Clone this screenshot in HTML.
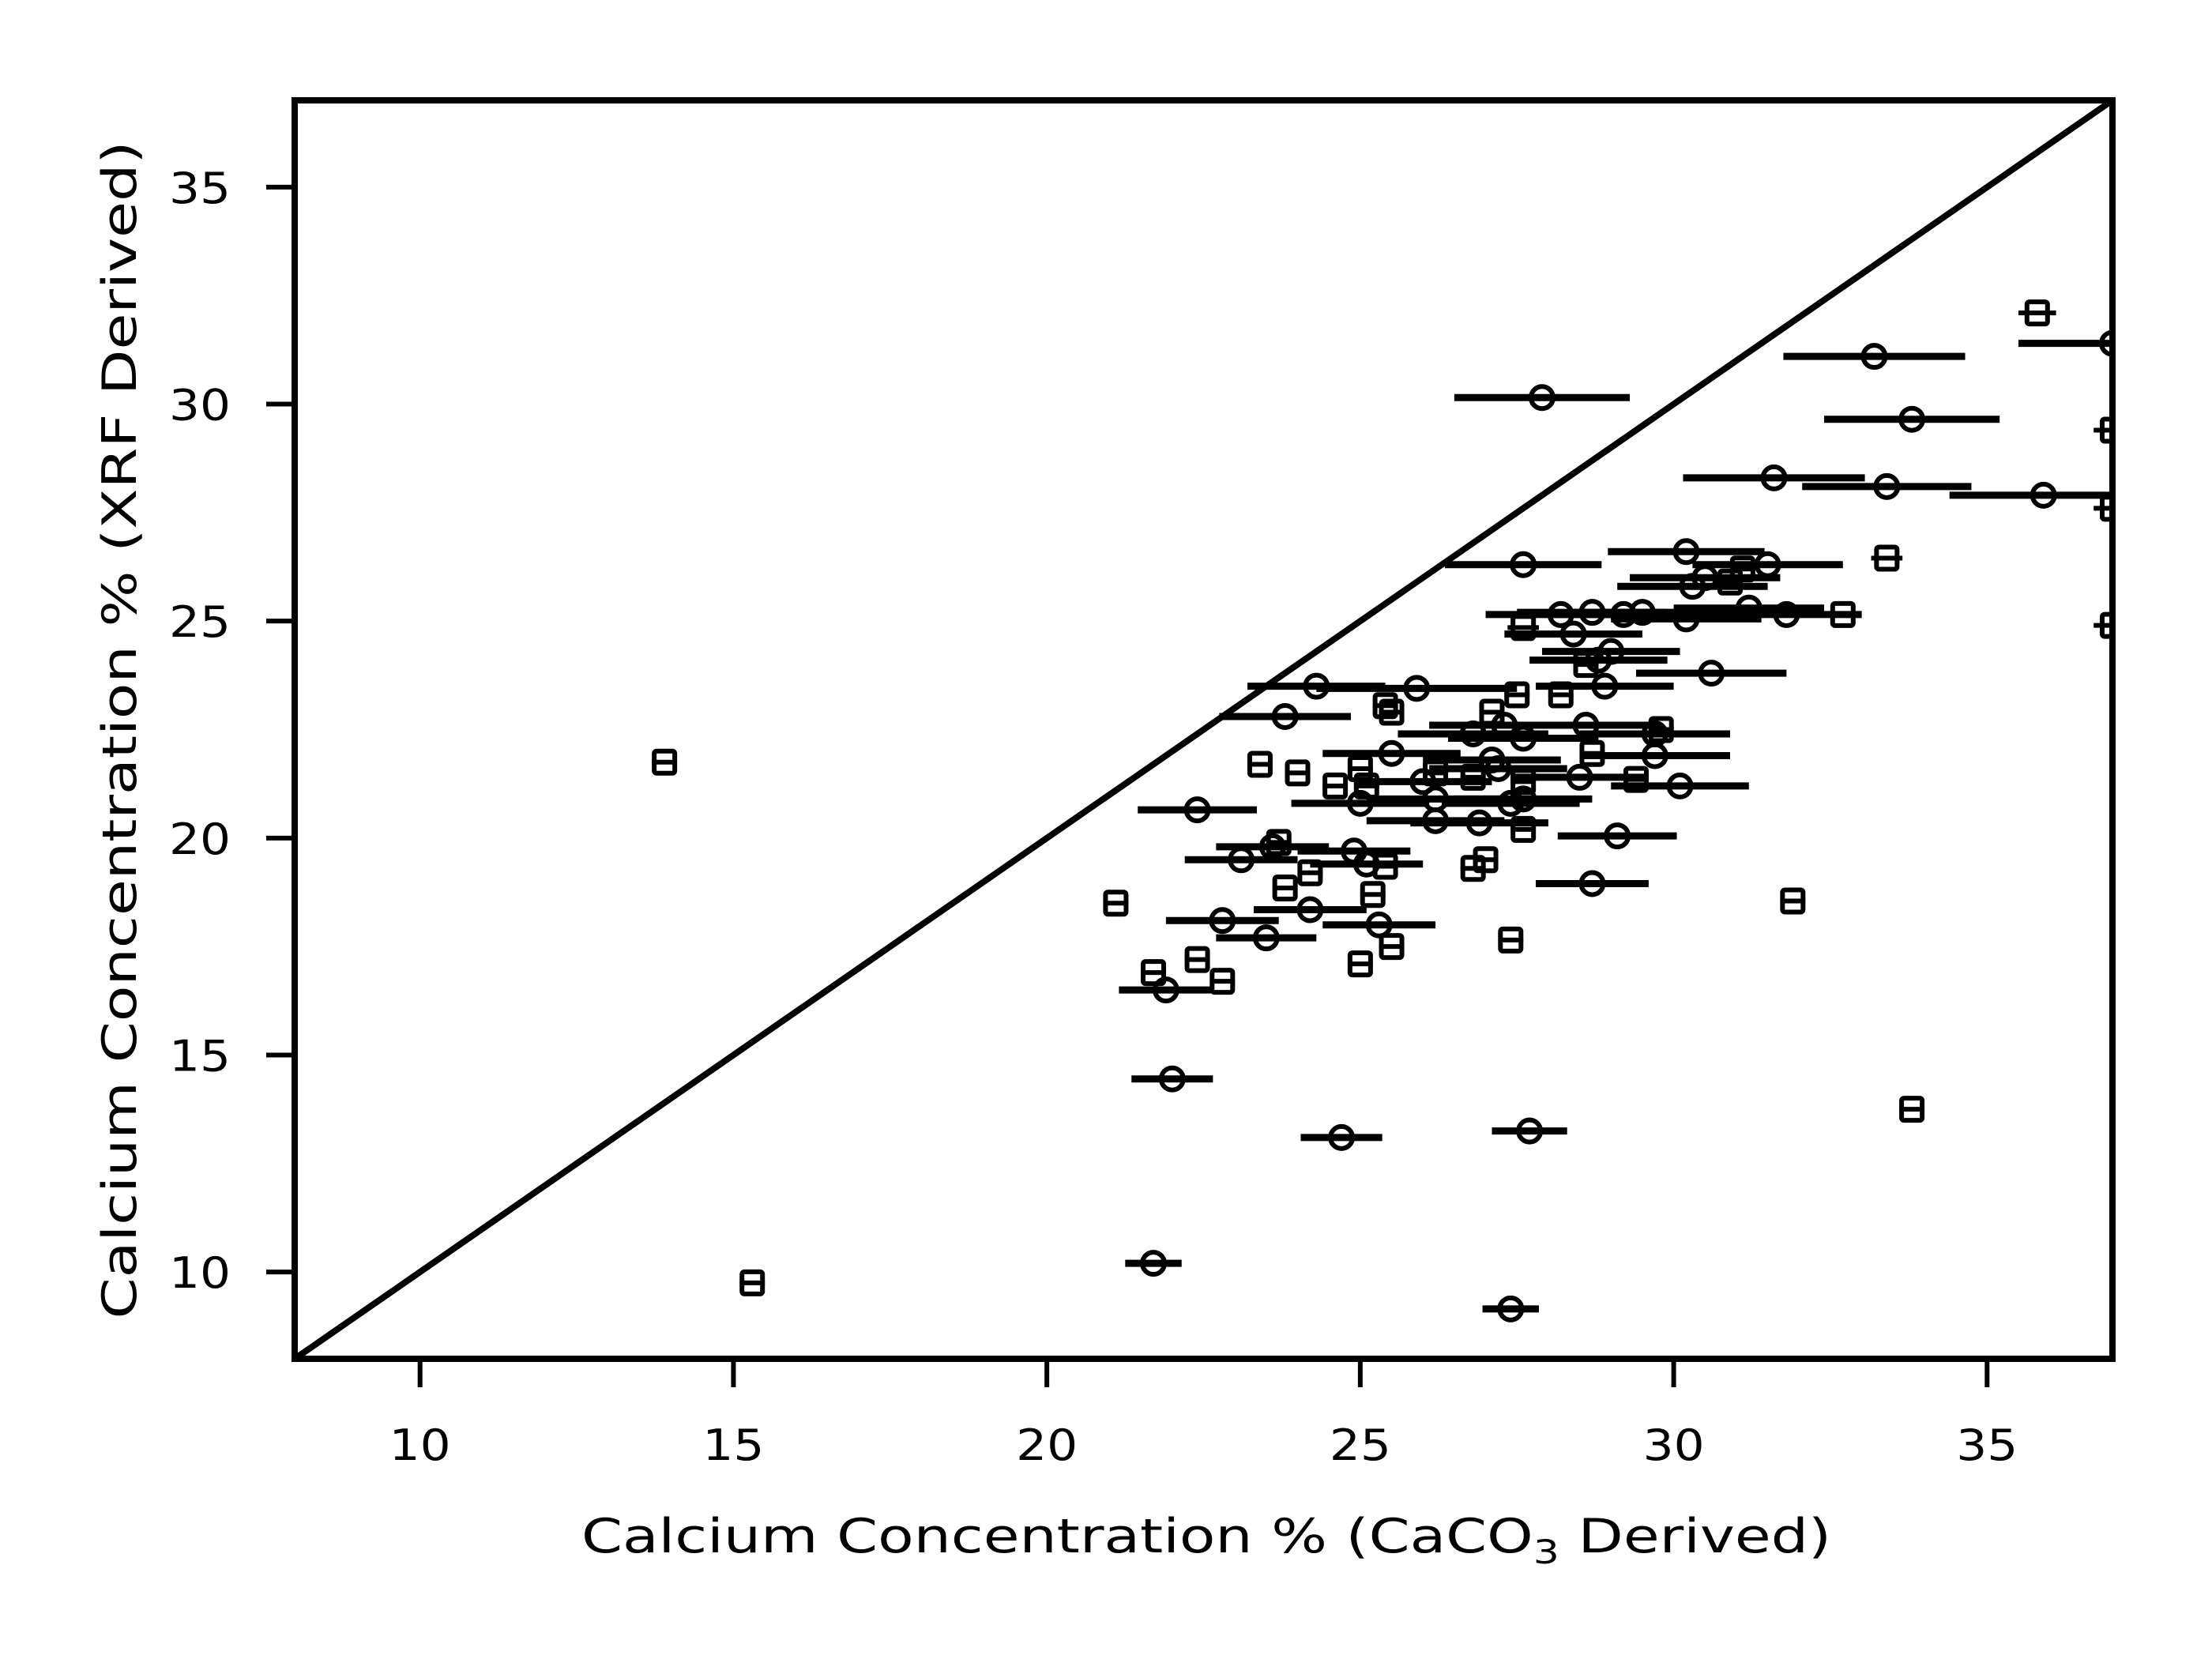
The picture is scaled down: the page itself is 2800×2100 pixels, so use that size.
<!DOCTYPE html>
<html><head><meta charset="utf-8"><style>
html,body{margin:0;padding:0;background:#fff;}
svg{display:block;}
text{font-family:"DejaVu Sans","Liberation Sans",sans-serif;fill:#000;}
</style></head><body>
<svg id="chart" width="2800" height="2100" viewBox="0 0 2800 2100" xmlns="http://www.w3.org/2000/svg">
<defs><clipPath id="plotclip"><rect x="373" y="127" width="2301" height="1593"/></clipPath></defs>
<rect x="0" y="0" width="2800" height="2100" fill="#fff"/>
<g id="marks" clip-path="url(#plotclip)"></g>
<rect x="373" y="127" width="2301" height="1593" fill="none" stroke="#000" stroke-width="8"/>
<g id="ticks"></g>
<text x="1527" y="1965" text-anchor="middle" font-size="60" textLength="1582" lengthAdjust="spacingAndGlyphs">Calcium Concentration % (CaCO<tspan font-size="42" dy="14">3</tspan><tspan dy="-14"> Derived)</tspan></text>
<text transform="translate(172,924) rotate(-90)" text-anchor="middle" font-size="60" textLength="1491" lengthAdjust="spacingAndGlyphs">Calcium Concentration % (XRF Derived)</text>
</svg>
<script>
const xTicks = [10, 15, 20, 25, 30, 35];
const yTicks = [10, 15, 20, 25, 30, 35];
const circleX = [27.9,33.2,37.0,33.8,31.6,33.4,35.9,27.6,30.2,31.5,30.5,30.3,28.2,28.7,29.2,29.5,30.2,31.2,31.8,28.4,29.0,28.8,30.6,28.9,24.3,25.9,23.8,27.6,28.6,27.3,29.7,26.8,25.5,27.1,29.7,27.2,26.0,30.1,28.5,26.2,25.0,27.6,27.4,22.4,26.2,26.9,29.1,24.9,25.1,23.6,23.1,28.7,24.2,22.8,25.3,23.5,21.9,22.0,24.7,27.7,21.7,27.4];
const circleY = [30.15,31.1,31.4,29.65,28.3,28.1,27.9,26.3,26.6,26.3,26.0,25.8,25.15,25.2,25.15,25.2,25.05,25.3,25.15,24.7,24.3,24.1,23.8,23.5,23.5,23.45,22.8,22.3,22.6,22.6,22.4,22.4,21.95,21.8,21.9,21.6,21.3,21.2,21.4,20.9,20.8,20.9,20.8,20.65,20.4,20.35,20.05,19.7,19.4,19.8,19.5,18.95,18.35,18.1,18.0,17.7,16.5,14.45,13.1,13.25,10.2,9.15];
const circleErr = [1.4,1.45,1.5,1.4,1.45,1.35,1.5,1.25,1.25,1.2,1.2,1.2,1.2,1.2,1.2,1.2,1.2,1.2,1.2,1.1,1.1,1.1,1.2,1.1,1.1,1.6,1.05,1.2,1.2,1.2,1.2,1.2,1.1,1.1,1.2,1.1,1.1,1.1,1.1,1.1,1.1,1.1,1.1,0.95,1.1,1.1,0.95,0.9,0.9,0.9,0.9,0.9,0.9,0.9,0.9,0.8,0.75,0.65,0.65,0.6,0.45,0.45];
const squareX = [13.9,15.3,35.8,37.0,37.0,37.0,33.4,32.7,27.6,25.4,25.5,23.4,24.0,25.0,25.1,24.6,26.2,26.8,27.6,28.7,29.4,27.6,23.7,24.2,23.8,25.2,25.4,27.0,26.8,21.1,22.4,21.7,22.8,25.0,25.5,27.4,31.9,33.8,27.1,27.5,28.2,28.6,30.9,31.1,29.8];
const squareY = [21.75,9.75,32.1,29.4,27.6,24.9,26.45,25.15,24.85,23.05,22.9,21.7,21.5,21.6,21.2,21.2,21.5,21.4,21.3,21.95,21.35,20.2,19.9,19.2,18.85,18.7,19.35,19.5,19.3,18.5,17.2,16.9,16.7,17.1,17.5,17.65,18.55,13.75,22.9,23.3,23.3,24.0,25.9,26.2,22.5];
const squareErr = [0.2,0.2,0.3,0.3,0.3,0.3,0.25,0.25,0.25,0.2,0.2,0.2,0.2,0.2,0.2,0.2,0.2,0.2,0.2,0.2,0.2,0.2,0.2,0.2,0.2,0.2,0.2,0.2,0.2,0.2,0.2,0.2,0.2,0.2,0.2,0.2,0.2,0.2,0.2,0.2,0.2,0.2,0.2,0.2,0.2];
const xMin = 8, xMax = 37, yMin = 8, yMax = 37;
const L = 373, R = 2674, T = 127, B = 1720;
function sx(v){ return L + (v - xMin) / (xMax - xMin) * (R - L); }
function sy(v){ return B - (v - yMin) / (yMax - yMin) * (B - T); }
const NS = "http://www.w3.org/2000/svg";
function mk(tag, attrs, parent){ const e = document.createElementNS(NS, tag); for (const k in attrs) e.setAttribute(k, attrs[k]); parent.appendChild(e); return e; }
const marks = document.getElementById('marks');
const ticksG = document.getElementById('ticks');
const diag = mk('line', {x1: sx(xMin), y1: sy(xMin), x2: sx(xMax), y2: sy(xMax), stroke: '#000', 'stroke-width': 8}, marks);


xTicks.forEach(t => {
  const l = mk('line', {x1: sx(t), x2: sx(t), y1: B, y2: B + 36, stroke: '#000', 'stroke-width': 6}, ticksG);
  
  
  const tx = mk('text', {x: sx(t), y: B + 128, 'text-anchor': 'middle', 'font-size': 54, textLength: 78, lengthAdjust: 'spacingAndGlyphs'}, ticksG);
  tx.textContent = t;
  
  
});
yTicks.forEach(t => {
  const l = mk('line', {x1: L - 36, x2: L, y1: sy(t), y2: sy(t), stroke: '#000', 'stroke-width': 6}, ticksG);
  
  
  const tx = mk('text', {x: 292, y: sy(t) + 20, 'text-anchor': 'end', 'font-size': 54, textLength: 78, lengthAdjust: 'spacingAndGlyphs'}, ticksG);
  tx.textContent = t;
  
  
});
circleX.forEach((x, i) => {
  const y = circleY[i], e = circleErr[i];
  const bar = mk('line', {x1: sx(x - e), x2: sx(x + e), y1: sy(y), y2: sy(y), stroke: '#000', 'stroke-width': 9}, marks);
  
  
  const c = mk('circle', {cx: sx(x), cy: sy(y), r: 14, fill: 'none', stroke: '#000', 'stroke-width': 6}, marks);
  
  
});
squareX.forEach((x, i) => {
  const y = squareY[i], e = squareErr[i];
  const bar = mk('line', {x1: sx(x - e), x2: sx(x + e), y1: sy(y), y2: sy(y), stroke: '#000', 'stroke-width': 6}, marks);
  
  
  const r = mk('rect', {x: sx(x) - 13, y: sy(y) - 14, width: 26, height: 28, rx: 3, fill: 'none', stroke: '#000', 'stroke-width': 6}, marks);
  
  
});
</script>
</body></html>
